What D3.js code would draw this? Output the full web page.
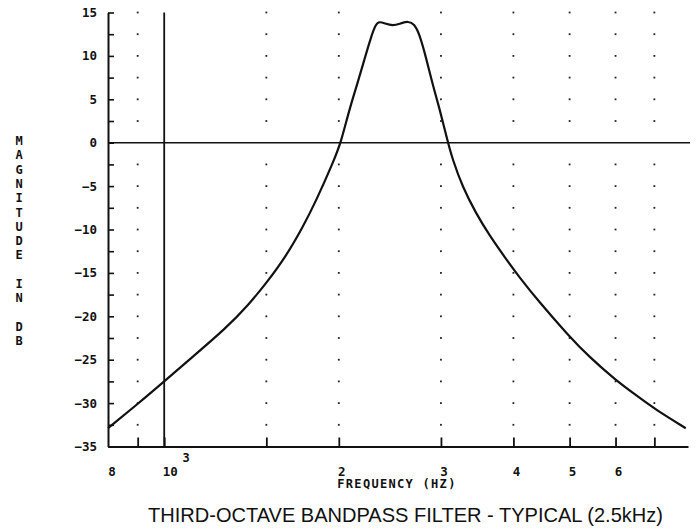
<!DOCTYPE html>
<html>
<head>
<meta charset="utf-8">
<script src="https://cdn.jsdelivr.net/npm/d3@7/dist/d3.min.js"></script>
<style>
  html, body { margin: 0; padding: 0; background: #fff; }
  svg { display: block; }
</style>
</head>
<body>
<svg id="chart" width="698" height="531"></svg>
<script>
// ---- data ----
const frequencies = [800, 900, 1000, 1118, 1277, 1401, 1507, 1621, 1731, 1825, 1963, 2016, 2085, 2153, 2212, 2273, 2318, 2349, 2400, 2475, 2560, 2635, 2698, 2752, 2826, 2900, 2978, 3085, 3138, 3268, 3446, 3634, 3885, 4096, 4430, 4990, 5400, 6000, 6590, 7000, 7930];
const magnitudes  = [-32.9, -30.1, -27.5, -24.7, -21.4, -18.6, -16.0, -13.1, -9.8, -6.8, -2.0, 0.0, 3.8, 6.8, 9.5, 12.2, 13.7, 13.95, 13.75, 13.45, 13.75, 14.0, 13.7, 12.6, 9.9, 6.8, 4.15, 0.0, -1.8, -5.1, -8.1, -10.65, -13.4, -15.5, -18.35, -22.3, -24.65, -27.35, -29.35, -30.65, -32.9];

const yTickValues = [-35, -32.5, -30, -27.5, -25, -22.5, -20, -17.5, -15, -12.5, -10, -7.5, -5, -2.5, 0, 2.5, 5, 7.5, 10, 12.5, 15];
const xTickValues = [900, 1000, 1500, 2000, 3000, 4000, 5000, 6000, 7000];
const xTickLabels = {800: "8", 1000: "10", 2000: "2", 3000: "3", 4000: "4", 5000: "5", 6000: "6"};
const xLabelValues = [800, 1000, 2000, 3000, 4000, 5000, 6000];
const gridFrequencies = [900, 1500, 2000, 3000, 4000, 5000, 6000, 7000];
const refFrequency = 1000;
const refMagnitude = 0;
const yAxisTitle = "MAGNITUDE IN DB";
const xAxisTitle = "FREQUENCY (HZ)";
const chartTitle = "THIRD-OCTAVE BANDPASS FILTER - TYPICAL (2.5kHz)";

// ---- layout ----
const svg = d3.select("#chart");
const x = d3.scaleLog().domain([800, 8000]).range([108, 688]);
const y = d3.scaleLinear().domain([-35, 15]).range([446.5, 12.5]);
const monoFont = "'DejaVu Sans Mono', 'Liberation Mono', monospace";

// dotted grid (dots at every y tick on each grid column)
const dots = [];
gridFrequencies.forEach(f => yTickValues.forEach(v => { if (v !== -35 && v !== 0) dots.push([f, v]); }));
svg.append("g").selectAll("rect").data(dots).join("rect")
  .attr("x", d => x(d[0]) - 0.9)
  .attr("y", d => y(d[1]) - 0.9)
  .attr("width", 1.8).attr("height", 1.8)
  .attr("fill", "#222");

// reference lines
svg.append("line")
  .attr("x1", x(800)).attr("x2", x(8000) + 2)
  .attr("y1", y(refMagnitude)).attr("y2", y(refMagnitude))
  .attr("stroke", "#111").attr("stroke-width", 1.6);
svg.append("line")
  .attr("x1", x(refFrequency)).attr("x2", x(refFrequency))
  .attr("y1", y(15)).attr("y2", y(-35))
  .attr("stroke", "#111").attr("stroke-width", 1.8);

// y axis
const yAxis = d3.axisLeft(y)
  .tickValues(yTickValues)
  .tickSizeInner(-6).tickSizeOuter(0).tickPadding(11)
  .tickFormat(d => (d % 5 === 0 ? d3.format("d")(d) : ""));
const gy = svg.append("g").attr("transform", `translate(${x(800)},0)`).call(yAxis);
gy.select(".domain").attr("stroke", "#111").attr("stroke-width", 2);
gy.selectAll(".tick line").attr("stroke", "#111").attr("stroke-width", 1.6);
gy.selectAll(".tick text")
  .attr("font-family", monoFont).attr("font-size", 12.5).attr("font-weight", "bold")
  .attr("fill", "#111");

// x axis
const xAxis = d3.axisBottom(x)
  .tickValues(xTickValues)
  .tickSizeInner(-9).tickSizeOuter(0).tickPadding(11)
  .tickFormat(() => "");
const gx = svg.append("g").attr("transform", `translate(0,${y(-35)})`).call(xAxis);
gx.select(".domain").attr("stroke", "#111").attr("stroke-width", 1.8);
gx.selectAll(".tick line").attr("stroke", "#111").attr("stroke-width", 1.8);

// x tick labels
svg.append("g").selectAll("text").data(xLabelValues).join("text")
  .attr("x", d => x(d) + (d === 800 ? 4 : (d === 1000 ? 6 : 3)))
  .attr("y", y(-35) + 29)
  .attr("text-anchor", "middle")
  .attr("font-family", monoFont).attr("font-size", 12.5).attr("font-weight", "bold")
  .attr("fill", "#111")
  .text(d => xTickLabels[d]);
// exponent on 10^3
svg.append("text")
  .attr("x", x(1000) + 22).attr("y", y(-35) + 15)
  .attr("text-anchor", "middle")
  .attr("font-family", monoFont).attr("font-size", 12).attr("font-weight", "bold")
  .attr("fill", "#111")
  .text("3");

// curve
const line = d3.line()
  .x((d, i) => x(frequencies[i]))
  .y((d, i) => y(magnitudes[i]))
  .curve(d3.curveBasis);
svg.append("path")
  .datum(frequencies)
  .attr("d", line)
  .attr("fill", "none")
  .attr("stroke", "#111")
  .attr("stroke-width", 2.2)
  .attr("stroke-linejoin", "round");

// y axis title (stacked letters)
svg.append("g").selectAll("text").data(yAxisTitle.split("")).join("text")
  .attr("x", 19)
  .attr("y", (d, i) => 145 + i * 14.3)
  .attr("text-anchor", "middle")
  .attr("font-family", monoFont).attr("font-size", 12).attr("font-weight", "bold")
  .attr("fill", "#111")
  .text(d => d);

// x axis title
svg.append("text")
  .attr("x", 397).attr("y", 488)
  .attr("text-anchor", "middle")
  .attr("font-family", monoFont).attr("font-size", 12).attr("font-weight", "bold")
  .attr("letter-spacing", 1.3)
  .attr("fill", "#111")
  .text(xAxisTitle);

// chart title
svg.append("text")
  .attr("x", 148).attr("y", 522)
  .attr("font-family", "'Liberation Sans', Arial, sans-serif").attr("font-size", 21)
  .attr("textLength", 515).attr("lengthAdjust", "spacingAndGlyphs")
  .attr("fill", "#111")
  .text(chartTitle);
</script>
</body>
</html>
